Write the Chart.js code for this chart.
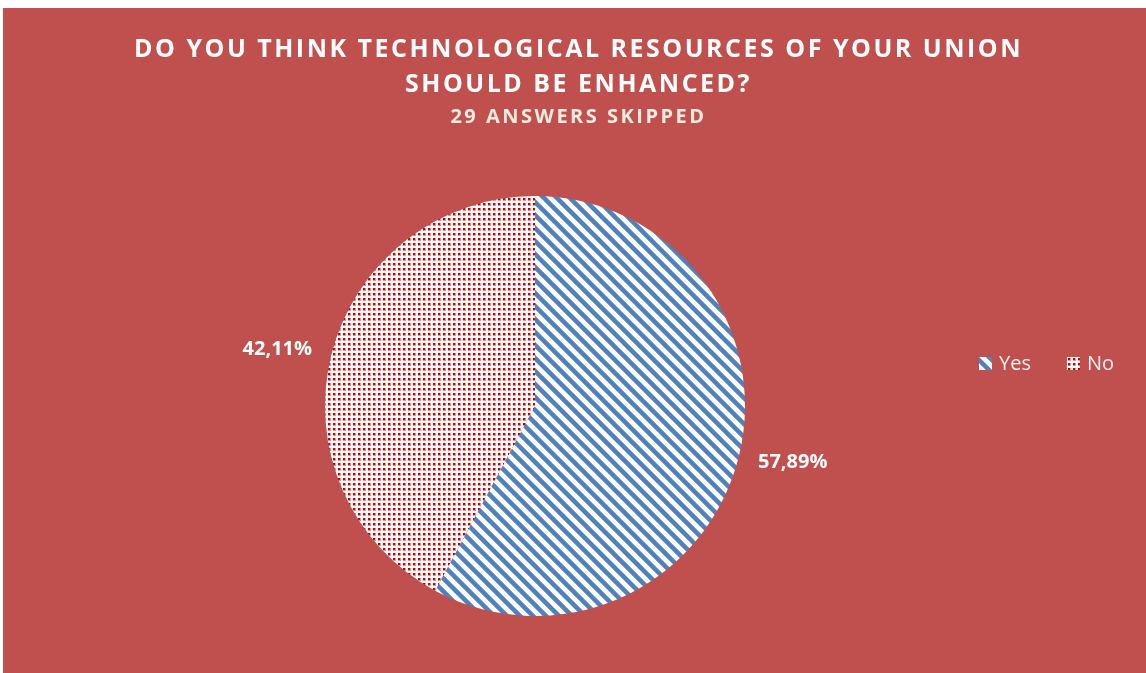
<!DOCTYPE html>
<html>
<head>
<meta charset="utf-8">
<title>Technological resources</title>
<script src="https://cdn.jsdelivr.net/npm/chart.js@4.4.0/dist/chart.umd.min.js"></script>
<style>
  html, body { margin: 0; padding: 0; background: #fff; }
  #quadro { position: absolute; left: 3px; top: 8px; width: 1143px; height: 665px; background: #C0504D; }
</style>
</head>
<body>
<div id="quadro"><canvas id="graficoPizza"></canvas></div>
<script>
const categorias = ['Yes', 'No'];
const percentuais = [57.89, 42.11];
const titulo = ['DO YOU THINK TECHNOLOGICAL RESOURCES OF YOUR UNION', 'SHOULD BE ENHANCED?'];
const subtitulo = '29 ANSWERS SKIPPED';

const canvas = document.getElementById('graficoPizza');
const ctxBase = canvas.getContext('2d');

// listras diagonais azuis (fatia "Yes")
function listrasAzuis() {
  const n = 13;
  const t = document.createElement('canvas');
  t.width = t.height = n;
  const c = t.getContext('2d');
  c.fillStyle = '#fff';
  c.fillRect(0, 0, n, n);
  c.strokeStyle = '#4F81BD';
  c.lineWidth = 4.5;
  c.beginPath();
  c.moveTo(-3, -3); c.lineTo(n + 3, n + 3);
  c.moveTo(-3, n - 3); c.lineTo(3, n + 3);
  c.moveTo(n - 3, -3); c.lineTo(n + 3, 3);
  c.stroke();
  return ctxBase.createPattern(t, 'repeat');
}

// pontinhos vermelhos (fatia "No")
function pontosVermelhos() {
  const t = document.createElement('canvas');
  t.width = t.height = 5;
  const c = t.getContext('2d');
  c.fillStyle = '#fff';
  c.fillRect(0, 0, 5, 5);
  c.fillStyle = '#E89090';
  c.fillRect(0, 0, 3, 3);
  c.fillStyle = '#C80000';
  c.fillRect(0, 0, 2, 2);
  return ctxBase.createPattern(t, 'repeat');
}

const padroes = [listrasAzuis(), pontosVermelhos()];

const formatar = v => v.toFixed(2).replace('.', ',') + '%';

const cabecalho = {
  id: 'cabecalho',
  afterDraw(chart) {
    const ctx = chart.ctx;
    const cx = chart.width / 2 + 4;
    ctx.save();
    ctx.textAlign = 'center';
    ctx.textBaseline = 'alphabetic';
    ctx.letterSpacing = '2.5px';
    ctx.fillStyle = '#FFFFFF';
    ctx.font = 'bold 25px "Open Sans"';
    titulo.forEach((linha, i) => ctx.fillText(linha, cx, 49 + i * 35));
    ctx.fillStyle = '#EEECE1';
    ctx.font = 'bold 20px "Open Sans"';
    ctx.fillText(subtitulo, cx, 115);
    ctx.restore();
  }
};

// rótulos de porcentagem fora das fatias
const rotulos = {
  id: 'rotulos',
  afterDatasetsDraw(chart) {
    const ctx = chart.ctx;
    const meta = chart.getDatasetMeta(0);
    ctx.save();
    ctx.font = 'bold 20px "Open Sans"';
    ctx.fillStyle = '#FFFFFF';
    ctx.textBaseline = 'middle';
    meta.data.forEach((arco, i) => {
      const p = arco.getProps(['x', 'y', 'startAngle', 'endAngle', 'outerRadius']);
      const meio = (p.startAngle + p.endAngle) / 2;
      const d = p.outerRadius + 20;
      const x = p.x + Math.cos(meio) * d;
      const y = p.y + Math.sin(meio) * d;
      ctx.textAlign = Math.cos(meio) >= 0 ? 'left' : 'right';
      ctx.fillText(formatar(chart.data.datasets[0].data[i]), x, y);
    });
    ctx.restore();
  }
};

// legenda na horizontal, à direita
const legenda = {
  id: 'legenda',
  afterDraw(chart) {
    const ctx = chart.ctx;
    const cores = chart.data.datasets[0].backgroundColor;
    let x = 976;
    const y = 356;
    ctx.save();
    ctx.font = '20px "Open Sans"';
    ctx.textBaseline = 'middle';
    ctx.textAlign = 'left';
    chart.data.labels.forEach((nome, i) => {
      ctx.fillStyle = cores[i];
      ctx.fillRect(x, y - 7, 13, 13);
      ctx.fillStyle = '#F2F2F2';
      ctx.fillText(nome, x + 20, y);
      x += 20 + ctx.measureText(nome).width + 36;
    });
    ctx.restore();
  }
};

window.graficoPizza = new Chart(canvas, {
  type: 'pie',
  data: {
    labels: categorias,
    datasets: [{
      data: percentuais,
      backgroundColor: padroes,
      borderWidth: 0,
      radius: 210
    }]
  },
  options: {
    responsive: true,
    maintainAspectRatio: false,
    animation: false,
    layout: {
      padding: { left: 20, right: 99, top: 160, bottom: 29 }
    },
    plugins: {
      legend: { display: false },
      tooltip: { enabled: false },
      title: { display: false }
    }
  },
  plugins: [cabecalho, rotulos, legenda]
});
</script>
</body>
</html>
